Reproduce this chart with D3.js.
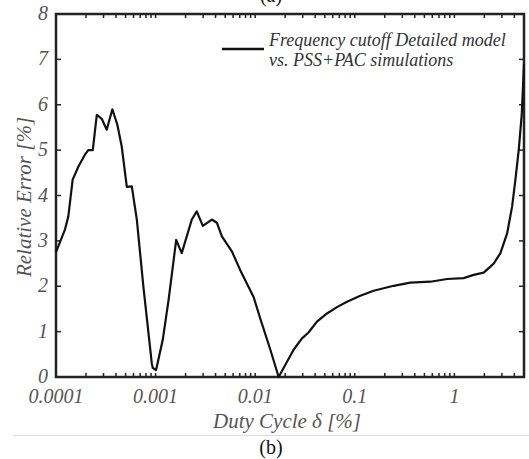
<!DOCTYPE html>
<html><head><meta charset="utf-8">
<script src="https://cdn.jsdelivr.net/npm/d3@7"></script>
</head><body style="margin:0;background:#fff">
<svg id="c" width="529" height="459" font-family="Liberation Serif" style="display:block"></svg>
<script>
const duty = [0.0001,1.23e-4,1.33e-4,1.47e-4,1.68e-4,1.95e-4,2.11e-4,2.34e-4,2.57e-4,2.88e-4,3.23e-4,3.68e-4,4.13e-4,4.57e-4,5.14e-4,5.77e-4,6.48e-4,7.54e-4,9.16e-4,9.37e-4,1.01e-3,1.18e-3,1.35e-3,1.61e-3,1.83e-3,2.31e-3,2.59e-3,2.98e-3,3.67e-3,4.12e-3,4.63e-3,5.83e-3,7.06e-3,9.61e-3,0.0112,0.0142,0.0172,0.0243,0.0295,0.0343,0.0417,0.0526,0.0662,0.0835,0.1136,0.1545,0.2455,0.361,0.574,0.845,1.24,1.56,1.97,2.48,2.90,3.39,3.80,4.10,4.43,4.75,5.0];
const relErr = [2.75,3.25,3.54,4.35,4.64,4.9,5.0,5.0,5.78,5.69,5.45,5.9,5.56,5.08,4.19,4.2,3.47,1.99,0.3,0.2,0.15,0.82,1.7,3.02,2.73,3.47,3.65,3.33,3.47,3.4,3.1,2.77,2.36,1.77,1.3,0.6,0.0,0.6,0.85,0.98,1.22,1.4,1.54,1.66,1.79,1.9,2.01,2.08,2.1,2.16,2.18,2.25,2.3,2.5,2.73,3.17,3.76,4.35,5.01,5.8,6.9];
const xTicks = [0.0001,0.001,0.01,0.1,1];
const xTickLabels = ["0.0001","0.001","0.01","0.1","1"];
const yTicks = [0,1,2,3,4,5,6,7,8];
const legendLines = ["Frequency cutoff Detailed model","vs. PSS+PAC simulations"];

const svg = d3.select("#c");
const L=56,R=524,T=14,B=377;
const x = d3.scaleLog().domain([0.0001,5]).range([L,R]);
const y = d3.scaleLinear().domain([0,8]).range([B,T]);
const FF = "Liberation Serif";
const grey = "#555";

const minor = [];
for (let e=-4;e<=0;e++) for (let m=1;m<=9;m++){const v=m*Math.pow(10,e); if(v<=5) minor.push(v);}

const tk = svg.append("g").attr("stroke","#222").attr("stroke-width",1.5);
minor.forEach(v=>{
  tk.append("line").attr("x1",x(v)).attr("x2",x(v)).attr("y1",B).attr("y2",B-4);
  tk.append("line").attr("x1",x(v)).attr("x2",x(v)).attr("y1",T).attr("y2",T+4);
});
yTicks.forEach(v=>{
  tk.append("line").attr("x1",L).attr("x2",L+5).attr("y1",y(v)).attr("y2",y(v));
  tk.append("line").attr("x1",R).attr("x2",R-5).attr("y1",y(v)).attr("y2",y(v));
});

svg.append("g").selectAll("text").data(xTicks).join("text")
  .attr("x",d=>x(d)).attr("y",403).attr("text-anchor","middle")
  .attr("font-family",FF).attr("font-style","italic").attr("font-size",20).attr("fill",grey)
  .text((d,i)=>xTickLabels[i]);
svg.append("g").selectAll("text").data(yTicks).join("text")
  .attr("x",48).attr("y",d=>y(d)+6).attr("text-anchor","end")
  .attr("font-family",FF).attr("font-style","italic").attr("font-size",20).attr("fill",grey)
  .text(d=>d);

svg.append("rect").attr("x",L).attr("y",T).attr("width",R-L).attr("height",B-T)
  .attr("fill","none").attr("stroke","#222").attr("stroke-width",2.5);

svg.append("path").datum(duty.map((d,i)=>[d,relErr[i]]))
  .attr("d",d3.line().x(d=>x(d[0])).y(d=>y(d[1])))
  .attr("fill","none").attr("stroke","#111").attr("stroke-width",2.2).attr("stroke-linejoin","round");

svg.append("line").attr("x1",222).attr("x2",264).attr("y1",49).attr("y2",49).attr("stroke","#111").attr("stroke-width",2.5);
svg.append("g").selectAll("text").data(legendLines).join("text")
  .attr("x",269).attr("y",(d,i)=>46+i*20)
  .attr("font-family",FF).attr("font-style","italic").attr("font-size",18).attr("fill","#333")
  .text(d=>d);

svg.append("text").attr("x",287).attr("y",428).attr("text-anchor","middle")
  .attr("font-family",FF).attr("font-style","italic").attr("font-size",21).attr("fill",grey)
  .text("Duty Cycle δ [%]");
svg.append("text").attr("transform","translate(31,197) rotate(-90)").attr("text-anchor","middle")
  .attr("font-family",FF).attr("font-style","italic").attr("font-size",21).attr("fill",grey)
  .text("Relative Error [%]");

svg.append("line").attr("x1",13).attr("x2",529).attr("y1",435.5).attr("y2",435.5).attr("stroke","#ddd").attr("stroke-width",1);
svg.append("text").attr("x",271).attr("y",454).attr("text-anchor","middle")
  .attr("font-family",FF).attr("font-size",20).attr("fill","#111").text("(b)");
svg.append("text").attr("x",271).attr("y",2).attr("text-anchor","middle")
  .attr("font-family",FF).attr("font-size",20).attr("fill","#111").text("(a)");
</script>
</body></html>
